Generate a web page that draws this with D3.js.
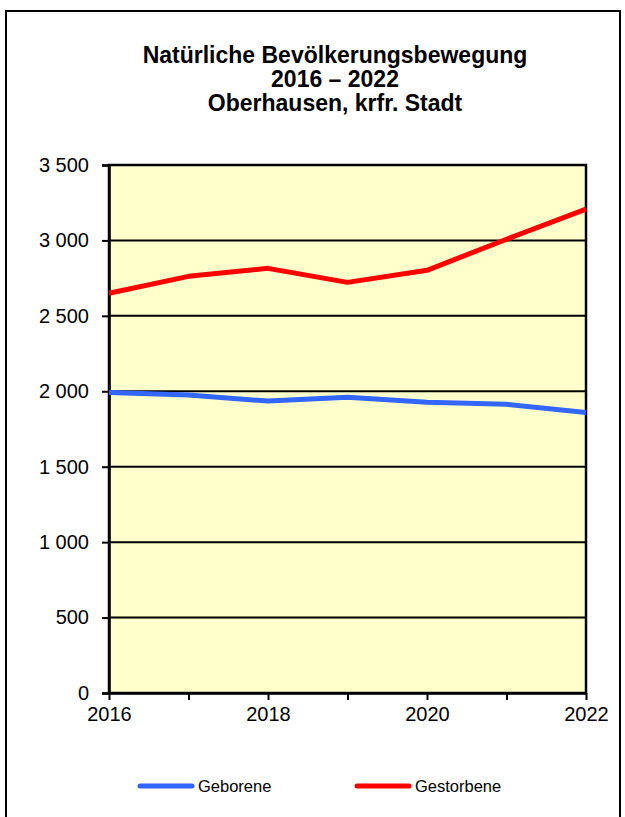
<!DOCTYPE html>
<html>
<head>
<meta charset="utf-8">
<script src="https://cdn.jsdelivr.net/npm/d3@7"></script>
<style>
  body { margin: 0; background: #fff; }
  svg { display: block; font-family: "Liberation Sans", Arial, sans-serif; }
</style>
</head>
<body>
<script>
var years = [2016, 2017, 2018, 2019, 2020, 2021, 2022];
var geborene = [1992, 1975, 1935, 1960, 1928, 1914, 1860];
var gestorbene = [2650, 2762, 2815, 2722, 2802, 3008, 3207];
var yTicks = [0, 500, 1000, 1500, 2000, 2500, 3000, 3500];
var xLabelYears = [2016, 2018, 2020, 2022];
var titleLines = ["Natürliche Bevölkerungsbewegung", "2016 \u2013 2022", "Oberhausen, krfr. Stadt"];

var W = 625, H = 817;
var margin = {top: 165, right: 39, bottom: 124, left: 109};
var width = W - margin.left - margin.right,
    height = H - margin.top - margin.bottom;

var svg = d3.select("body").append("svg")
    .attr("width", W).attr("height", H);

// outer frame
svg.append("rect")
   .attr("x", 6).attr("y", 11)
   .attr("width", 614).attr("height", 820)
   .attr("fill", "none").attr("stroke", "#000").attr("stroke-width", 2);

svg.append("text")
   .attr("text-anchor", "middle")
   .attr("font-weight", "bold")
   .attr("font-size", 23)
   .selectAll("tspan")
   .data(titleLines)
   .enter().append("tspan")
   .attr("x", 335)
   .attr("y", function(d, i){ return 63 + i * 24; })
   .text(function(d){ return d; });

var g = svg.append("g")
    .attr("transform", "translate(" + margin.left + "," + margin.top + ")");

var x = d3.scaleLinear().domain([2016, 2022]).range([0, width]);
var y = d3.scaleLinear().domain([0, 3500]).range([height, 0]);

g.append("rect")
 .attr("width", width).attr("height", height)
 .attr("fill", "#FFFFCC");

// gridlines
g.append("g")
 .selectAll("line")
 .data(yTicks.slice(1))
 .enter().append("line")
 .attr("x1", 0).attr("x2", width)
 .attr("y1", function(d){ return y(d); })
 .attr("y2", function(d){ return y(d); })
 .attr("stroke", "#000").attr("stroke-width", 2);

g.append("rect")
 .attr("width", width).attr("height", height)
 .attr("fill", "none").attr("stroke", "#000").attr("stroke-width", 2.5);

var fmt = function(d){ return d3.format(",")(d).replace(",", " "); };

var yAxis = d3.axisLeft(y).tickValues(yTicks).tickSize(7).tickPadding(13).tickFormat(fmt);
var ya = g.append("g").call(yAxis);
ya.select(".domain").attr("stroke-width", 2.5);
ya.selectAll(".tick line").attr("stroke-width", 2);
ya.selectAll("text").attr("font-size", 20).attr("fill", "#000")
  .attr("font-family", "Liberation Sans, Arial, sans-serif");

var xAxis = d3.axisBottom(x).tickValues(years).tickSize(7).tickPadding(7)
  .tickSizeOuter(0)
  .tickFormat(function(d){ return xLabelYears.indexOf(d) >= 0 ? d : ""; });
var xa = g.append("g").attr("transform", "translate(0," + height + ")").call(xAxis);
xa.select(".domain").attr("stroke-width", 2.5);
xa.selectAll(".tick line").attr("stroke-width", 2);
xa.selectAll("text").attr("font-size", 20).attr("fill", "#000")
  .attr("font-family", "Liberation Sans, Arial, sans-serif");

var line = d3.line()
  .x(function(d, i){ return x(years[i]); })
  .y(function(d){ return y(d); });

g.append("path").datum(geborene)
 .attr("d", line).attr("fill", "none")
 .attr("stroke", "#3366FF").attr("stroke-width", 5)
 .attr("stroke-linejoin", "round").attr("stroke-linecap", "butt");

g.append("path").datum(gestorbene)
 .attr("d", line).attr("fill", "none")
 .attr("stroke", "#FF0000").attr("stroke-width", 5)
 .attr("stroke-linejoin", "round").attr("stroke-linecap", "butt");

// legend
var legend = [
  {name: "Geborene", color: "#3366FF", x: 140},
  {name: "Gestorbene", color: "#FF0000", x: 357}
];
var lg = svg.append("g").selectAll("g").data(legend).enter().append("g")
  .attr("transform", function(d){ return "translate(" + d.x + ",786)"; });
lg.append("line")
  .attr("x1", 0).attr("x2", 52)
  .attr("stroke", function(d){ return d.color; })
  .attr("stroke-width", 5).attr("stroke-linecap", "round");
lg.append("text")
  .attr("x", 58).attr("dy", "0.35em")
  .attr("font-size", 16.5)
  .text(function(d){ return d.name; });
</script>
</body>
</html>
